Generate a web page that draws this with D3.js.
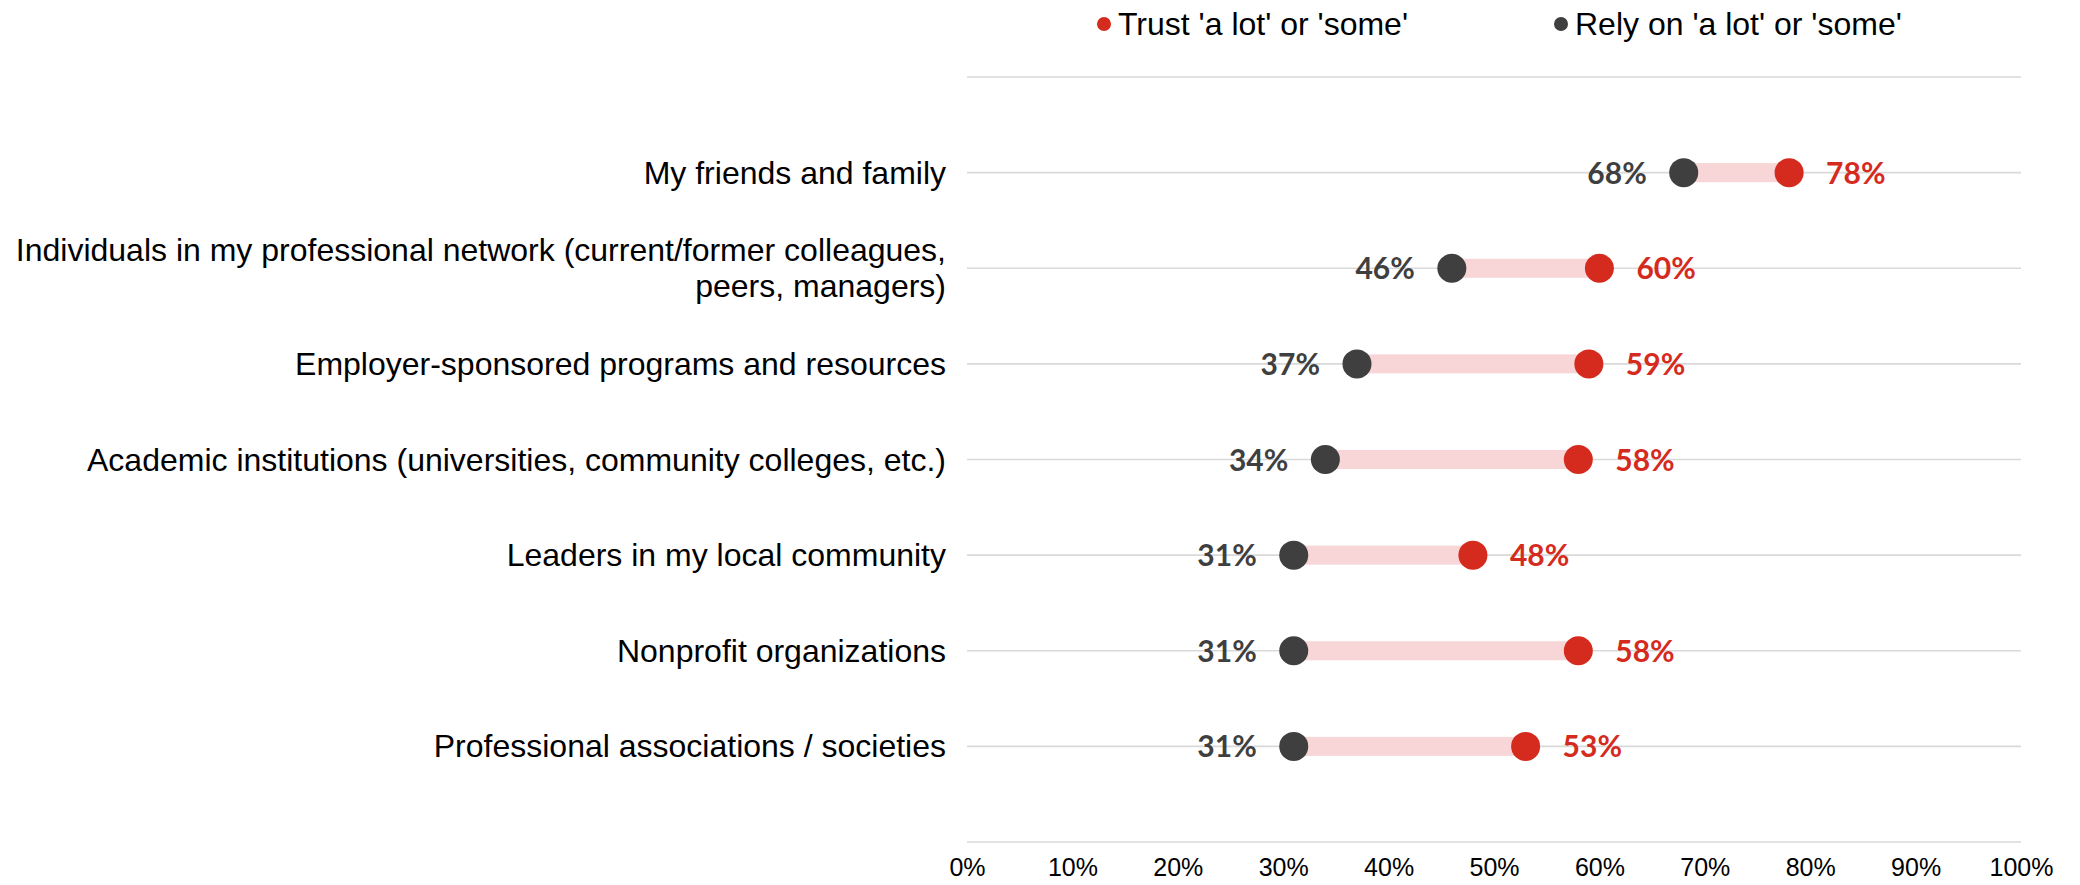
<!DOCTYPE html>
<html>
<head>
<meta charset="utf-8">
<style>
  body { margin: 0; background: #fff; }
</style>
</head>
<body>
<svg id="chart" width="2080" height="885"></svg>
<script src="https://d3js.org/d3.v7.min.js"></script>
<script>
// data
var categories = [
    "My friends and family",
    "Individuals in my professional network (current/former colleagues,|peers, managers)",
    "Employer-sponsored programs and resources",
    "Academic institutions (universities, community colleges, etc.)",
    "Leaders in my local community",
    "Nonprofit organizations",
    "Professional associations / societies"
];
var rely = [68, 46, 37, 34, 31, 31, 31];
var trust = [78, 60, 59, 58, 48, 58, 53];
var xTicks = [0, 10, 20, 30, 40, 50, 60, 70, 80, 90, 100];
var seriesNames = ["Trust 'a lot' or 'some'", "Rely on 'a lot' or 'some'"];

var red = "#d52b1e", dark = "#3f3f3f", pink = "#f8d5d6", grid = "#d9d9d9";

var svg = d3.select("#chart");
var plotLeft = 967, plotRight = 2021, plotTop = 77, plotBottom = 842;

var x = d3.scaleLinear().domain([0, 100]).range([plotLeft, plotRight]);
// slots 0..8 : gridline at each, categories at 1..7
var y = d3.scaleLinear().domain([0, categories.length + 1]).range([plotTop, plotBottom]);

var rows = categories.map(function (c, i) {
    return { label: c, rely: rely[i], trust: trust[i], pos: i + 1 };
});

// gridlines
svg.append("g")
    .selectAll("line")
    .data(d3.range(0, categories.length + 2))
    .enter().append("line")
    .attr("x1", plotLeft).attr("x2", plotRight)
    .attr("y1", function (d) { return y(d); })
    .attr("y2", function (d) { return y(d); })
    .style("stroke", grid)
    .style("stroke-width", 1.6);

// x axis labels
var xAxis = d3.axisBottom(x).tickValues(xTicks).tickSize(0).tickPadding(16)
    .tickFormat(function (d) { return d + "%"; });
var gx = svg.append("g")
    .attr("transform", "translate(0," + plotBottom + ")")
    .call(xAxis);
gx.select(".domain").remove();
gx.selectAll("text")
    .style("font-family", "'Liberation Sans', Arial, sans-serif")
    .style("font-size", "25px")
    .style("fill", "#000");

// category labels
var lab = svg.append("g").selectAll("text")
    .data(rows)
    .enter().append("text")
    .attr("x", 946)
    .attr("y", function (d) { return y(d.pos); })
    .attr("text-anchor", "end")
    .style("font-family", "'Liberation Sans', Arial, sans-serif")
    .style("font-size", "32px")
    .style("fill", "#000");
lab.each(function (d) {
    var parts = d.label.split("|");
    var t = d3.select(this);
    var off = -(parts.length - 1) * 18;
    parts.forEach(function (p, k) {
        t.append("tspan")
            .attr("x", 946)
            .attr("dy", k == 0 ? (off + 11) : 36)
            .text(p);
    });
});

// connecting band
svg.append("g").selectAll("rect")
    .data(rows)
    .enter().append("rect")
    .attr("x", function (d) { return x(d.rely); })
    .attr("width", function (d) { return x(d.trust) - x(d.rely); })
    .attr("y", function (d) { return y(d.pos) - 9.5; })
    .attr("height", 19)
    .style("fill", pink);

// dots
svg.append("g").selectAll("circle.rely")
    .data(rows)
    .enter().append("circle")
    .attr("class", "rely")
    .attr("cx", function (d) { return x(d.rely); })
    .attr("cy", function (d) { return y(d.pos); })
    .attr("r", 14.5)
    .style("fill", dark);

svg.append("g").selectAll("circle.trust")
    .data(rows)
    .enter().append("circle")
    .attr("class", "trust")
    .attr("cx", function (d) { return x(d.trust); })
    .attr("cy", function (d) { return y(d.pos); })
    .attr("r", 14.5)
    .style("fill", red);

// value labels
svg.append("g").selectAll("text")
    .data(rows)
    .enter().append("text")
    .attr("x", function (d) { return x(d.rely) - 37; })
    .attr("y", function (d) { return y(d.pos) + 11; })
    .attr("text-anchor", "end")
    .style("font-family", "Lato, 'Open Sans', sans-serif")
    .style("font-weight", "700")
    .style("font-size", "30px")
    .style("fill", dark)
    .text(function (d) { return d.rely + "%"; });

svg.append("g").selectAll("text")
    .data(rows)
    .enter().append("text")
    .attr("x", function (d) { return x(d.trust) + 37; })
    .attr("y", function (d) { return y(d.pos) + 11; })
    .attr("text-anchor", "start")
    .style("font-family", "Lato, 'Open Sans', sans-serif")
    .style("font-weight", "700")
    .style("font-size", "30px")
    .style("fill", red)
    .text(function (d) { return d.trust + "%"; });

// legend
var legend = [
    { name: seriesNames[0], color: red, x: 1104 },
    { name: seriesNames[1], color: dark, x: 1561 }
];
var lg = svg.append("g").selectAll("g")
    .data(legend)
    .enter().append("g")
    .attr("transform", function (d) { return "translate(" + d.x + ",24)"; });
lg.append("circle").attr("r", 7).style("fill", function (d) { return d.color; });
lg.append("text")
    .attr("x", 14)
    .attr("y", 11)
    .style("font-family", "'Liberation Sans', Arial, sans-serif")
    .style("font-size", "32px")
    .style("fill", "#000")
    .text(function (d) { return d.name; });
</script>
</body>
</html>
